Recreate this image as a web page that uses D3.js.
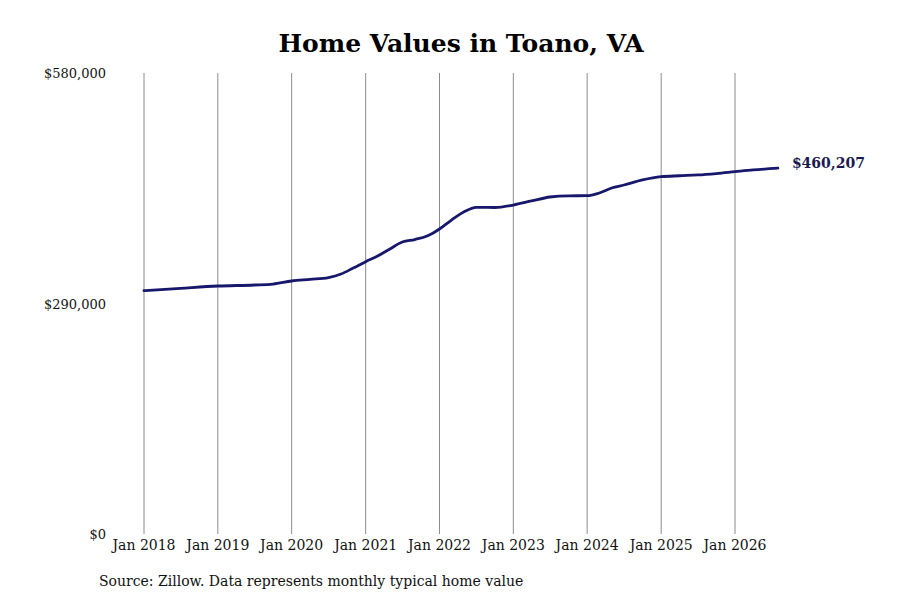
<!DOCTYPE html>
<html>
<head>
<meta charset="utf-8">
<script src="https://cdn.jsdelivr.net/npm/d3@7"></script>
<style>
  body { margin: 0; background: #fff; }
  text { font-family: "DejaVu Serif", serif; }
</style>
</head>
<body>
<div id="chart"></div>
<script>
// DATA (month offsets from Jan 2018)
var months = [0, 6, 12, 18, 21, 24, 27, 30, 32, 34, 36, 38, 40, 42, 44, 46, 48, 50, 52, 54, 57,
              60, 63, 66, 69, 72, 74, 76, 78, 81, 84, 87, 90, 93, 96, 99, 103];
var values = [306100, 309100, 312000, 313300, 314500, 318300, 320400, 322700, 327100, 334700,
              342600, 349700, 358600, 367400, 370500, 374900, 383700, 395000, 405100, 411000, 410800,
              413900, 419000, 424000, 425500, 425600, 429000, 435300, 439100, 445400,
              449500, 450700, 451700, 453500, 455800, 458000, 460207];
var yTicks = [0, 290000, 580000];
var xTickYears = [2018, 2019, 2020, 2021, 2022, 2023, 2024, 2025, 2026];

var width = 900, height = 600;

var svg = d3.select("#chart").append("svg")
    .attr("width", width)
    .attr("height", height);

var data = months.map(function(m, i){
    return { date: new Date(2018, m, 1), value: values[i] };
});

var x = d3.scaleTime()
    .domain([new Date(2018, 0, 1), new Date(2026, 0, 1)])
    .range([144, 735]);

var y = d3.scaleLinear()
    .domain([0, 580000])
    .range([534, 73]);

// title
svg.append("text")
    .attr("x", 461)
    .attr("y", 52)
    .attr("text-anchor", "middle")
    .style("font-size", "25px")
    .style("font-weight", "bold")
    .text("Home Values in Toano, VA");

// vertical gridlines
svg.selectAll(".grid")
    .data(xTickYears)
    .join("line")
    .attr("class", "grid")
    .attr("x1", function(d){ return x(new Date(d, 0, 1)); })
    .attr("x2", function(d){ return x(new Date(d, 0, 1)); })
    .attr("y1", y(580000))
    .attr("y2", y(0))
    .attr("stroke", "#8c8c8c")
    .attr("stroke-width", 1);

// x labels
svg.selectAll(".xlab")
    .data(xTickYears)
    .join("text")
    .attr("class", "xlab")
    .attr("x", function(d){ return x(new Date(d, 0, 1)); })
    .attr("y", 550)
    .attr("text-anchor", "middle")
    .style("font-size", "14px")
    .attr("fill", "#111")
    .text(function(d){ return "Jan " + d; });

// y labels
svg.selectAll(".ylab")
    .data(yTicks)
    .join("text")
    .attr("class", "ylab")
    .attr("x", 106)
    .attr("y", function(d){ return y(d) + 5; })
    .attr("text-anchor", "end")
    .style("font-size", "13px")
    .attr("fill", "#111")
    .text(function(d){ return "$" + d3.format(",")(d); });

// line
var line = d3.line()
    .x(function(d){ return x(d.date); })
    .y(function(d){ return y(d.value); })
    .curve(d3.curveMonotoneX);

svg.append("path")
    .datum(data)
    .attr("d", line)
    .attr("fill", "none")
    .attr("stroke", "#17176b")
    .attr("stroke-width", 2.8)
    .attr("stroke-linecap", "round");

// end label
var last = data[data.length - 1];
svg.append("text")
    .attr("x", x(last.date) + 14)
    .attr("y", y(last.value))
    .style("font-size", "14px")
    .style("font-weight", "bold")
    .attr("fill", "#1a1a50")
    .text("$" + d3.format(",")(last.value));

// source
svg.append("text")
    .attr("x", 99)
    .attr("y", 586)
    .style("font-size", "14px")
    .attr("fill", "#111")
    .text("Source: Zillow. Data represents monthly typical home value");
</script>
</body>
</html>
